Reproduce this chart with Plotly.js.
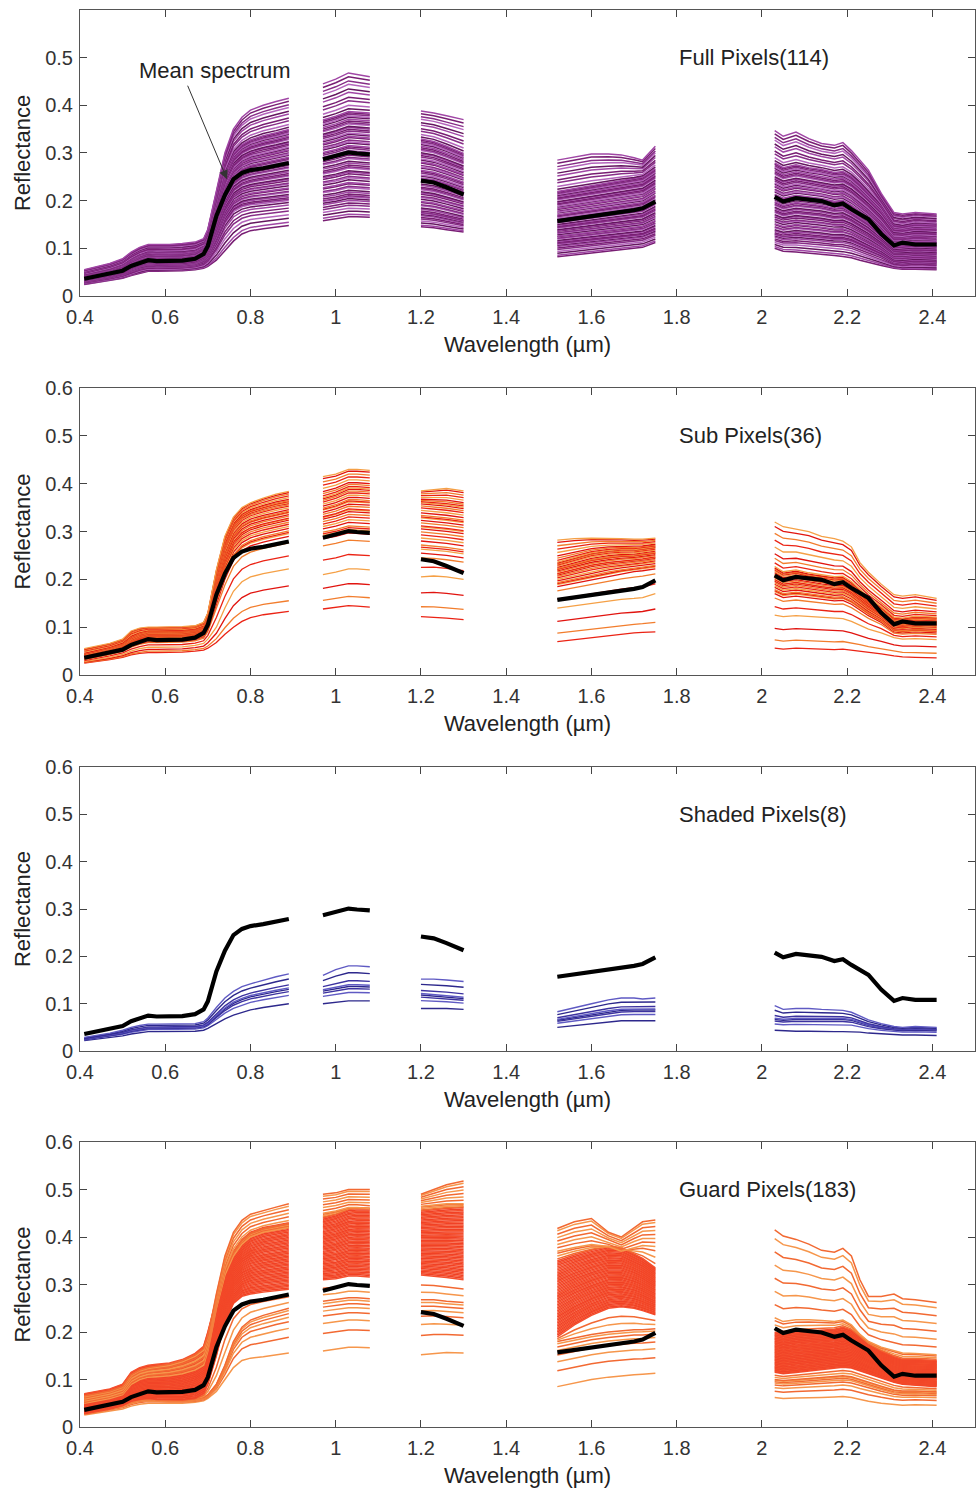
<!DOCTYPE html>
<html>
<head>
<meta charset="utf-8">
<script src="https://cdn.plot.ly/plotly-3.0.1.min.js"></script>
<style>
  html, body { margin: 0; padding: 0; background: #fff; }
  #chart { width: 978px; height: 1492px; }
</style>
</head>
<body>
<div id="chart"></div>
<script>
// ---------------- DATA ----------------
const wavelength = [
  0.41,0.44,0.47,0.50,0.52,0.54,0.56,0.58,0.61,0.64,0.67,0.69,0.70,0.72,0.74,0.76,0.78,0.80,0.83,0.86,0.89,
  0.97,1.00,1.03,1.05,1.08,
  1.20,1.23,1.26,1.30,
  1.52,1.56,1.60,1.64,1.67,1.70,1.72,1.75,
  2.03,2.05,2.08,2.11,2.14,2.17,2.19,2.21,2.23,2.25,2.28,2.31,2.33,2.36,2.41
];
const xTickVals = [0.4,0.6,0.8,1.0,1.2,1.4,1.6,1.8,2.0,2.2,2.4];
const xTickText = ["0.4","0.6","0.8","1","1.2","1.4","1.6","1.8","2","2.2","2.4"];
const yTickVals = [0,0.1,0.2,0.3,0.4,0.5,0.6];
const yTickText = ["0","0.1","0.2","0.3","0.4","0.5","0.6"];
const panelTitles = ["Full Pixels(114)","Sub Pixels(36)","Shaded Pixels(8)","Guard Pixels(183)"];

const meanSpectrum = [
  0.036,0.041,0.046,0.053,0.063,0.070,0.075,0.073,0.073,0.074,0.078,0.088,0.105,0.168,0.212,0.245,0.258,0.264,0.268,0.273,0.279,
  0.287,0.293,0.301,0.299,0.297,
  0.242,0.238,0.228,0.213,
  0.157,0.162,0.167,0.171,0.175,0.180,0.184,0.198,
  0.208,0.198,0.205,0.202,0.199,0.190,0.194,0.182,0.172,0.161,0.130,0.106,0.112,0.108,0.108
];

// Full pixels: envelope spectra (lowest, dense bottom, middle, dense top, highest)
const fullLowest = [
  0.024,0.028,0.032,0.037,0.043,0.048,0.052,0.052,0.052,0.053,0.055,0.058,0.062,0.075,0.095,0.115,0.130,0.137,0.141,0.145,0.148,
  0.158,0.162,0.166,0.166,0.165,
  0.145,0.143,0.139,0.134,
  0.082,0.086,0.090,0.094,0.097,0.100,0.102,0.112,
  0.100,0.094,0.092,0.090,0.088,0.085,0.083,0.080,0.075,0.070,0.064,0.058,0.056,0.056,0.055
];
const fullDenseLow = [
  0.030,0.034,0.039,0.045,0.053,0.059,0.063,0.062,0.062,0.063,0.066,0.072,0.082,0.115,0.155,0.180,0.190,0.194,0.197,0.200,0.203,
  0.200,0.204,0.210,0.209,0.207,
  0.175,0.172,0.166,0.158,
  0.110,0.114,0.118,0.121,0.124,0.127,0.129,0.140,
  0.130,0.125,0.128,0.126,0.123,0.120,0.120,0.116,0.108,0.100,0.088,0.072,0.070,0.073,0.071
];
const fullMiddle = [
  0.036,0.041,0.046,0.053,0.063,0.070,0.075,0.073,0.073,0.074,0.078,0.088,0.105,0.160,0.210,0.242,0.256,0.263,0.268,0.273,0.279,
  0.287,0.293,0.301,0.299,0.297,
  0.250,0.246,0.238,0.226,
  0.160,0.165,0.170,0.174,0.178,0.182,0.185,0.200,
  0.200,0.192,0.198,0.195,0.192,0.186,0.188,0.178,0.166,0.154,0.130,0.104,0.106,0.108,0.106
];
const fullDenseHigh = [
  0.045,0.051,0.057,0.066,0.078,0.087,0.093,0.092,0.092,0.093,0.096,0.105,0.125,0.190,0.260,0.300,0.318,0.328,0.337,0.343,0.350,
  0.370,0.378,0.388,0.387,0.385,
  0.330,0.325,0.315,0.300,
  0.220,0.226,0.232,0.237,0.242,0.246,0.250,0.268,
  0.280,0.270,0.276,0.270,0.266,0.260,0.262,0.252,0.236,0.218,0.190,0.150,0.147,0.152,0.150
];
const fullHighest = [
  0.055,0.062,0.068,0.078,0.092,0.102,0.108,0.108,0.108,0.110,0.113,0.120,0.140,0.220,0.300,0.350,0.375,0.390,0.400,0.408,0.415,
  0.445,0.455,0.468,0.465,0.460,
  0.388,0.384,0.378,0.370,
  0.285,0.292,0.298,0.298,0.296,0.290,0.285,0.314,
  0.347,0.335,0.344,0.330,0.320,0.316,0.322,0.305,0.285,0.264,0.215,0.175,0.172,0.175,0.172
];
const fullPositions = [
  0,0.12,0.27,0.41,0.55,0.66,0.78,0.87,0.95,1.0,1.04,1.09,1.13,1.19,1.22,1.28,1.31,1.37,1.42,1.45,
  1.51,1.55,1.58,1.64,1.67,1.71,1.76,1.8,1.86,1.89,1.94,1.97,2.02,2.05,2.1,2.14,2.17,2.23,2.26,2.3,
  2.36,2.39,2.44,2.47,2.52,2.56,2.6,2.63,2.69,2.72,2.76,2.8,2.85,2.88,2.92,2.96,2.99,3.06,3.15,3.27,
  3.36,3.49,3.58,3.7,3.79,3.9,4.0
];

// Sub pixels
const subLowest = [
  0.025,0.028,0.032,0.037,0.042,0.045,0.047,0.047,0.047,0.048,0.050,0.052,0.056,0.068,0.085,0.100,0.112,0.120,0.126,0.130,0.133,
  0.138,0.142,0.145,0.144,0.142,
  0.122,0.121,0.119,0.116,
  0.070,0.074,0.079,0.083,0.086,0.088,0.089,0.090,
  0.056,0.054,0.056,0.055,0.054,0.053,0.054,0.052,0.050,0.047,0.044,0.040,0.038,0.037,0.036
];
const subLow = [
  0.028,0.032,0.037,0.043,0.050,0.055,0.058,0.058,0.058,0.059,0.062,0.066,0.075,0.100,0.140,0.175,0.195,0.205,0.212,0.217,0.222,
  0.210,0.215,0.222,0.222,0.220,
  0.205,0.207,0.205,0.200,
  0.140,0.145,0.150,0.155,0.158,0.160,0.162,0.170,
  0.125,0.122,0.124,0.122,0.120,0.118,0.118,0.112,0.104,0.096,0.088,0.078,0.075,0.076,0.074
];
const subDenseLow = [
  0.033,0.038,0.044,0.051,0.060,0.066,0.070,0.070,0.070,0.071,0.074,0.080,0.095,0.150,0.200,0.240,0.260,0.270,0.278,0.284,0.290,
  0.285,0.290,0.297,0.296,0.294,
  0.255,0.253,0.250,0.245,
  0.185,0.192,0.200,0.207,0.212,0.216,0.218,0.222,
  0.170,0.162,0.165,0.162,0.158,0.155,0.156,0.148,0.136,0.124,0.110,0.090,0.088,0.090,0.088
];
const subDenseHigh = [
  0.042,0.048,0.055,0.064,0.077,0.085,0.090,0.090,0.090,0.091,0.094,0.100,0.120,0.200,0.270,0.310,0.330,0.340,0.348,0.355,0.360,
  0.370,0.378,0.390,0.390,0.388,
  0.360,0.358,0.355,0.350,
  0.235,0.245,0.255,0.260,0.262,0.262,0.264,0.268,
  0.225,0.214,0.218,0.212,0.208,0.204,0.205,0.194,0.178,0.162,0.142,0.120,0.118,0.122,0.120
];
const subHighest = [
  0.055,0.060,0.066,0.075,0.092,0.098,0.100,0.100,0.100,0.101,0.103,0.110,0.130,0.220,0.290,0.330,0.350,0.360,0.370,0.378,0.384,
  0.415,0.420,0.430,0.430,0.428,
  0.385,0.388,0.390,0.385,
  0.282,0.285,0.286,0.286,0.285,0.284,0.284,0.286,
  0.320,0.310,0.305,0.300,0.290,0.285,0.280,0.268,0.235,0.215,0.190,0.168,0.165,0.168,0.160
];
const subPositions = [
  0,0.25,0.6,1.0,1.4,1.8,2.0,2.08,2.12,2.16,2.24,2.3,2.36,2.42,2.48,2.52,2.54,2.6,2.65,2.7,
  2.72,2.75,2.8,2.85,2.9,2.94,2.98,3.02,3.1,3.2,3.3,3.45,3.6,3.75,3.9,4.0
];

// Shaded pixels
const shadedLowest = [
  0.022,0.025,0.028,0.032,0.036,0.039,0.041,0.041,0.041,0.041,0.042,0.044,0.048,0.058,0.068,0.076,0.082,0.087,0.092,0.096,0.100,
  0.100,0.103,0.106,0.106,0.106,
  0.090,0.090,0.090,0.088,
  0.050,0.054,0.058,0.062,0.064,0.064,0.064,0.064,
  0.044,0.043,0.042,0.042,0.041,0.041,0.041,0.041,0.040,0.038,0.036,0.034,0.034,0.034,0.033
];
const shadedMiddle = [
  0.025,0.029,0.033,0.038,0.043,0.046,0.049,0.049,0.049,0.049,0.050,0.053,0.058,0.074,0.090,0.102,0.110,0.116,0.122,0.127,0.132,
  0.128,0.133,0.138,0.138,0.137,
  0.120,0.118,0.116,0.112,
  0.066,0.072,0.078,0.084,0.087,0.088,0.088,0.088,
  0.068,0.066,0.068,0.068,0.068,0.068,0.068,0.066,0.060,0.055,0.050,0.046,0.045,0.046,0.045
];
const shadedHighest = [
  0.029,0.033,0.038,0.044,0.050,0.054,0.057,0.057,0.057,0.057,0.058,0.062,0.070,0.092,0.112,0.126,0.136,0.142,0.150,0.157,0.163,
  0.160,0.172,0.180,0.180,0.178,
  0.152,0.152,0.150,0.147,
  0.083,0.092,0.100,0.108,0.112,0.112,0.110,0.112,
  0.096,0.088,0.090,0.090,0.088,0.087,0.086,0.082,0.074,0.066,0.058,0.052,0.050,0.052,0.050
];
const shadedPositions = [0,0.55,0.8,0.95,1.05,1.25,1.65,2.0];

// Guard pixels: lower group, dense group, upper group
const guardLowest = [
  0.025,0.029,0.033,0.038,0.044,0.048,0.050,0.050,0.050,0.050,0.052,0.055,0.060,0.075,0.100,0.125,0.140,0.145,0.148,0.152,0.156,
  0.160,0.164,0.168,0.168,0.167,
  0.152,0.155,0.157,0.156,
  0.085,0.092,0.100,0.105,0.108,0.110,0.111,0.113,
  0.062,0.060,0.061,0.061,0.062,0.063,0.064,0.062,0.058,0.054,0.050,0.047,0.046,0.047,0.046
];
const guardLowerTop = [
  0.030,0.035,0.040,0.046,0.054,0.058,0.060,0.058,0.057,0.057,0.059,0.062,0.068,0.090,0.130,0.180,0.210,0.225,0.235,0.243,0.250,
  0.265,0.268,0.272,0.272,0.270,
  0.268,0.268,0.265,0.262,
  0.180,0.188,0.195,0.200,0.203,0.205,0.205,0.207,
  0.100,0.098,0.100,0.102,0.104,0.106,0.108,0.106,0.100,0.094,0.086,0.078,0.076,0.076,0.074
];
const guardDenseLow = [
  0.028,0.033,0.038,0.045,0.054,0.058,0.060,0.058,0.057,0.057,0.060,0.070,0.090,0.150,0.220,0.260,0.275,0.280,0.284,0.287,0.290,
  0.310,0.312,0.318,0.318,0.316,
  0.320,0.318,0.315,0.310,
  0.190,0.215,0.235,0.250,0.253,0.250,0.245,0.236,
  0.115,0.112,0.115,0.118,0.120,0.124,0.126,0.124,0.118,0.112,0.104,0.094,0.090,0.088,0.085
];
const guardDenseHigh = [
  0.070,0.075,0.080,0.090,0.115,0.125,0.130,0.132,0.135,0.142,0.155,0.170,0.200,0.270,0.330,0.370,0.395,0.410,0.420,0.425,0.430,
  0.440,0.447,0.458,0.460,0.460,
  0.455,0.458,0.460,0.462,
  0.350,0.362,0.372,0.380,0.378,0.365,0.355,0.335,
  0.200,0.196,0.200,0.202,0.204,0.206,0.210,0.204,0.190,0.175,0.160,0.148,0.142,0.142,0.140
];
const guardUpperLow = [
  0.050,0.055,0.060,0.068,0.090,0.100,0.105,0.106,0.108,0.112,0.120,0.130,0.160,0.250,0.320,0.360,0.385,0.400,0.410,0.415,0.420,
  0.450,0.455,0.462,0.462,0.460,
  0.465,0.468,0.470,0.470,
  0.370,0.378,0.384,0.380,0.370,0.378,0.382,0.380,
  0.230,0.222,0.226,0.226,0.224,0.222,0.225,0.215,0.195,0.180,0.168,0.160,0.156,0.155,0.152
];
const guardHighest = [
  0.065,0.070,0.076,0.085,0.110,0.120,0.125,0.128,0.132,0.140,0.152,0.165,0.190,0.280,0.360,0.410,0.435,0.448,0.456,0.463,0.470,
  0.490,0.493,0.500,0.500,0.500,
  0.490,0.500,0.510,0.518,
  0.418,0.432,0.439,0.410,0.400,0.420,0.432,0.436,
  0.415,0.402,0.395,0.385,0.372,0.368,0.376,0.360,0.310,0.275,0.275,0.280,0.270,0.268,0.262
];
const guardPositions = [
  0,0.35,0.55,0.7,0.8,0.88,0.95,1.0,1.3,1.6,
  2.0,2.02,2.04,2.06,2.08,2.1,2.12,2.14,2.16,2.18,2.2,2.22,2.24,2.26,2.28,2.3,2.32,2.34,2.36,2.38,
  2.4,2.42,2.44,2.46,2.48,2.5,2.52,2.54,2.56,2.58,2.6,2.62,2.64,2.66,2.68,2.7,2.72,2.74,2.76,2.78,
  2.8,2.82,2.84,2.86,2.88,2.9,2.92,2.94,2.96,2.98,3.0,
  3.2,3.5,3.8,4.0,4.15,4.3,4.45,4.6,4.75,4.9,5.0
];

// ---------------- STYLE ----------------
const panelColors = [
  ["rgb(120,30,115)","rgb(160,70,165)","rgb(100,22,95)","rgb(180,100,188)","rgb(135,45,135)"],
  ["rgb(235,35,20)","rgb(242,125,45)","rgb(225,20,15)","rgb(245,160,70)"],
  ["rgb(45,40,140)","rgb(95,90,195)","rgb(60,50,160)"],
  ["rgb(245,80,45)","rgb(240,65,38)","rgb(246,150,75)","rgb(242,105,50)"]
];
const yDomains = [[0.7982,1.0],[0.5307,0.7332],[0.2653,0.4658],[0.0,0.2011]];
const lineWidths = [1.5, 1.3, 1.4, 1.5];

// ---------------- BUILD ----------------
function buildLine(keys, t) {
  const n = keys.length - 1;
  const k = Math.min(Math.floor(t), n - 1);
  const f = t - k;
  const xs = [], ys = [];
  for (let i = 0; i < wavelength.length; i++) {
    if (i > 0 && wavelength[i] - wavelength[i - 1] > 0.07) { xs.push(null); ys.push(null); }
    xs.push(wavelength[i]);
    ys.push(keys[k][i] * (1 - f) + keys[k + 1][i] * f);
  }
  return { x: xs, y: ys };
}

const panels = [
  { keys: [fullLowest, fullDenseLow, fullMiddle, fullDenseHigh, fullHighest], pos: fullPositions },
  { keys: [subLowest, subLow, subDenseLow, subDenseHigh, subHighest], pos: subPositions },
  { keys: [shadedLowest, shadedMiddle, shadedHighest], pos: shadedPositions },
  { keys: [guardLowest, guardLowerTop, guardDenseLow, guardDenseHigh, guardUpperLow, guardHighest], pos: guardPositions }
];

const traces = [];
const meanXY = buildLine([meanSpectrum, meanSpectrum], 0);
panels.forEach((p, pi) => {
  const ax = pi === 0 ? "" : String(pi + 1);
  p.pos.forEach((t, li) => {
    const xy = buildLine(p.keys, t);
    const pal = panelColors[pi];
    let color = pal[li % pal.length];
    if (pi === 3) {
      const dense = t >= 2 && t <= 3;
      color = dense ? pal[li % 2] : pal[2 + (li % 2)];
    }
    traces.push({
      type: "scatter", mode: "lines", x: xy.x, y: xy.y,
      xaxis: "x" + ax, yaxis: "y" + ax,
      line: { color: color, width: lineWidths[pi] },
      hoverinfo: "skip", showlegend: false
    });
  });
  traces.push({
    type: "scatter", mode: "lines", x: meanXY.x, y: meanXY.y,
    xaxis: "x" + ax, yaxis: "y" + ax,
    line: { color: "#000", width: 4.2 },
    hoverinfo: "skip", showlegend: false
  });
});

const tickFont = { family: "Liberation Sans, Arial, sans-serif", size: 20, color: "#333" };
const titleFont = { family: "Liberation Sans, Arial, sans-serif", size: 22, color: "#222" };

const layout = {
  width: 978, height: 1492,
  margin: { l: 80, r: 3, t: 10, b: 65 },
  paper_bgcolor: "#fff", plot_bgcolor: "#fff",
  showlegend: false,
  annotations: []
};

for (let i = 0; i < 4; i++) {
  const s = i === 0 ? "" : String(i + 1);
  layout["xaxis" + s] = {
    domain: [0, 1], range: [0.4, 2.5], anchor: "y" + s,
    tickmode: "array", tickvals: xTickVals, ticktext: xTickText,
    ticks: "inside", ticklen: 7, tickcolor: "#444", mirror: "ticks",
    ticklabelstandoff: 3,
    showline: true, linecolor: "#555", linewidth: 1,
    showgrid: false, zeroline: false, tickfont: tickFont,
    title: { text: "Wavelength (µm)", font: titleFont, standoff: 9 }
  };
  layout["yaxis" + s] = {
    domain: yDomains[i], range: [0, 0.6], anchor: "x" + s,
    tickmode: "array",
    tickvals: i === 0 ? yTickVals.slice(0, 6) : yTickVals,
    ticktext: i === 0 ? yTickText.slice(0, 6) : yTickText,
    ticks: "inside", ticklen: 7, tickcolor: "#444", mirror: "ticks",
    ticklabelstandoff: 2,
    showline: true, linecolor: "#555", linewidth: 1,
    showgrid: false, zeroline: false, tickfont: tickFont,
    title: { text: "Reflectance", font: titleFont, standoff: 8 }
  };
  layout.annotations.push({
    xref: "x" + s, yref: "y" + s, x: 1.8, y: 0.5,
    xanchor: "left", yanchor: "middle", showarrow: false,
    text: panelTitles[i], font: titleFont
  });
}
layout.annotations.push({
  xref: "x", yref: "y", x: 0.716, y: 0.473, showarrow: false,
  text: "Mean spectrum", font: titleFont
});
layout.annotations.push({
  xref: "x", yref: "y", x: 0.745, y: 0.245, ax: -40, ay: -95,
  text: "", showarrow: true, arrowhead: 2, arrowsize: 1.8, arrowwidth: 1,
  arrowcolor: "#333"
});

Plotly.newPlot("chart", traces, layout, { staticPlot: true, displayModeBar: false });
</script>
</body>
</html>
